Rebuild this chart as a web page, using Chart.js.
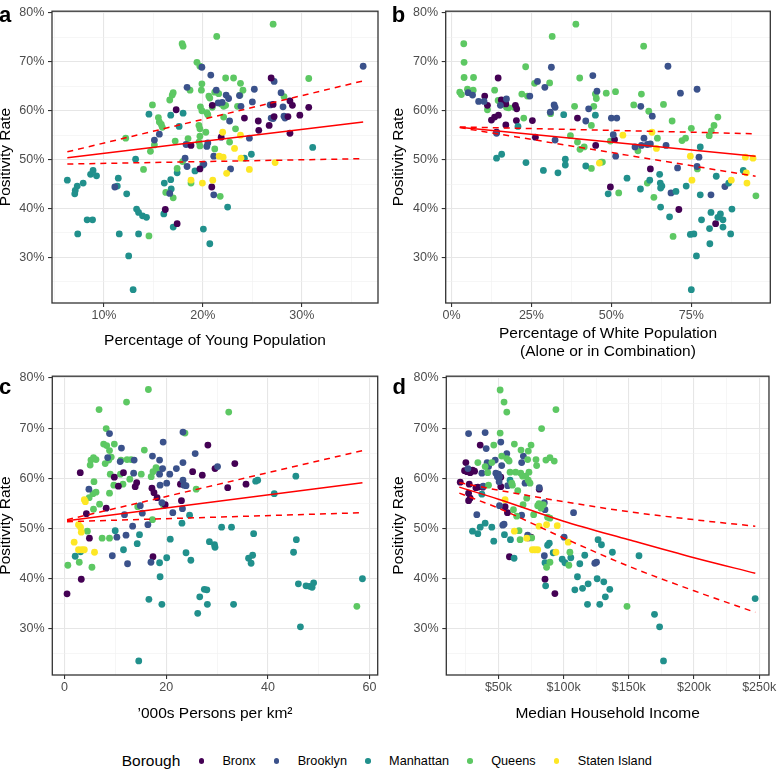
<!DOCTYPE html>
<html>
<head>
<meta charset="utf-8">
<script src="https://cdn.jsdelivr.net/npm/chart.js@4.4.1/dist/chart.umd.min.js"></script>
<style>
  body { margin: 0; background: #fff; width: 778px; height: 770px; position: relative; overflow: hidden;
         font-family: "Liberation Sans", Arial, Helvetica, sans-serif; }
  canvas { position: absolute; }
  .tag { position: absolute; font-weight: bold; font-size: 22px; line-height: 22px; color: #000; }
  #legend { position: absolute; left: 121.7px; top: 751px; height: 20px; display: flex; align-items: center; white-space: nowrap; }
  #legend .ttl { font-size: 15.5px; line-height: 15.5px; color: #000; }
  #legend .dot { width: 5.5px; height: 5.5px; border-radius: 50%; margin: 0 18.3px; }
  #legend .lab { font-size: 12.7px; line-height: 12.7px; color: #000; }
</style>
</head>
<body>
<canvas id="pa" width="389" height="365" style="left:0;top:0"></canvas>
<canvas id="pb" width="389" height="365" style="left:389px;top:0"></canvas>
<canvas id="pc" width="389" height="365" style="left:0;top:365px"></canvas>
<canvas id="pd" width="389" height="365" style="left:389px;top:365px"></canvas>
<div class="tag" style="left:-1px;top:4.1px">a</div>
<div class="tag" style="left:391.8px;top:4.1px">b</div>
<div class="tag" style="left:-1px;top:376.4px">c</div>
<div class="tag" style="left:392.5px;top:376.4px">d</div>
<div id="legend"><span class="ttl">Borough</span></div>
<script>
Chart.defaults.font.family = '"Liberation Sans", Arial, Helvetica, sans-serif';

const boroughs = ['Bronx', 'Brooklyn', 'Manhattan', 'Queens', 'Staten Island'];
const boroughColors = ['#440154', '#3B528B', '#21908C', '#5DC863', '#FDE725'];

// positivity rate (%) axis
const yMajor = [30, 40, 50, 60, 70, 80];
const yMinor = [25, 35, 45, 55, 65, 75];

// a: % young population vs positivity, [x, y, borough]
const youngPts = [
  [6.3,45.8],[7.3,44.6],[7.1,43.7],[7.05,43.0],[7.9,45.2],[7.35,34.8],[8.3,37.7],[8.85,37.7],[8.65,47.0],[8.9,47.8],
  [9.25,46.7],[11.35,44.6],[11.45,46.2],[11.55,34.8],[12.3,43.0],[12.5,30.3],[13.2,50.1],[13.3,39.9],[13.5,39.2],[13.9,38.5],
  [14.3,38.2],[13.5,34.8],[12.95,23.4],[14.55,59.3],[16.1,45.2],[16.05,38.9],[16.75,45.9],[16.8,44.0],[16.75,59.1],[17.0,36.2],
  [17.4,47.3],[17.6,56.8],[18.0,59.5],[19.2,47.7],[20.0,48.9],[20.05,35.8],[20.7,32.8],[22.5,40.3],[24.2,50.3],[24.9,51.1],[31.1,52.5]
].map(p => [p[0], p[1], 2]).concat([
  [12.2,54.4],[14.0,48.0],[14.55,34.4],[14.9,61.2],[14.7,51.7],[15.1,53.0],[15.5,58.6],[15.6,57.7],[15.8,57.2],[15.9,56.6],
  [16.25,43.3],[16.65,62.2],[16.9,63.2],[17.0,63.7],[17.0,42.2],[17.2,53.8],[17.4,48.2],[17.9,73.7],[18.0,73.2],[17.95,49.6],
  [18.5,54.3],[18.7,64.2],[18.8,45.2],[19.4,69.9],[19.7,69.1],[19.6,57.0],[19.7,56.3],[19.7,54.8],[19.6,53.6],[19.7,52.8],
  [19.75,60.8],[19.9,60.0],[20.4,59.6],[20.5,59.2],[19.9,65.5],[19.85,64.2],[20.3,55.6],[20.6,63.0],[20.7,62.6],[20.95,60.7],
  [21.2,63.8],[21.2,52.2],[21.4,75.2],[21.6,63.5],[21.75,42.5],[21.85,61.4],[22.1,60.9],[22.3,61.1],[22.1,58.7],[22.3,66.7],
  [22.7,53.6],[23.1,66.7],[23.3,56.3],[23.5,60.9],[23.75,63.2],[23.8,65.6],[24.05,64.2],[27.1,77.7],[28.2,62.9],[30.7,66.6]
].map(p => [p[0], p[1], 3])).concat([
  [11.1,44.4],[15.1,54.0],[15.6,55.2],[16.65,43.1],[18.2,50.3],[18.3,53.1],[18.4,48.6],[18.4,64.8],[19.9,68.9],[20.1,49.1],
  [20.4,52.7],[20.5,53.4],[20.8,67.3],[21.1,50.7],[21.1,42.8],[21.35,64.2],[21.55,61.6],[21.95,61.7],[22.35,63.2],[22.6,62.5],
  [22.7,57.9],[22.8,48.1],[23.7,63.1],[23.85,60.9],[24.7,54.4],[25.0,61.8],[25.2,64.4],[26.8,61.2],[26.9,58.5],[27.1,58.4],
  [27.2,66.0],[27.9,63.7],[28.1,60.8],[28.2,58.9],[28.3,58.5],[36.2,69.1]
].map(p => [p[0], p[1], 1])).concat([
  [16.2,39.8],[17.3,60.2],[17.4,36.9],[18.8,52.9],[19.7,48.1],[20.9,44.4],[20.95,61.1],[21.85,54.6],[24.2,58.5],[25.6,57.9],
  [25.65,56.0],[26.7,57.0],[26.9,66.7],[27.1,61.3],[27.2,58.8],[28.6,58.8],[28.8,62.0],[29.05,61.1],[28.8,55.4],[29.8,59.1],[30.7,60.7]
].map(p => [p[0], p[1], 0])).concat([
  [18.8,45.8],[19.95,45.2],[21.0,45.8],[21.65,50.7],[22.05,50.5],[22.0,55.6],[22.4,47.2],[23.2,52.3],[23.8,55.0],[23.85,50.3],
  [24.7,48.0],[27.3,49.4]
].map(p => [p[0], p[1], 4]));
const youngFitX = [6.3, 36.2];
const youngFit = [50.4, 57.7];
const youngUpper = [51.6, 66.1];
const youngLower = [49.1, 50.2];

// b: % white population
const whitePts = [
  [2.6,63.8],[3.1,63.3],[3.85,73.7],[3.95,69.9],[3.95,66.8],[5.0,64.4],[5.7,64.0],[6.8,64.2],[6.9,66.8],[11.25,60.2],
  [13.5,64.2],[14.6,62.1],[17.2,60.7],[17.9,60.6],[19.6,60.7],[22.0,63.4],[22.6,58.5],[23.2,69.0],[23.75,63.0],[26.0,65.6],
  [30.7,65.7],[31.0,59.4],[31.5,75.2],[37.2,54.9],[38.5,60.9],[38.9,77.7],[39.4,53.6],[40.1,66.7],[40.2,52.1],[41.5,52.6],
  [43.75,48.2],[43.75,57.0],[44.5,60.9],[45.0,63.4],[45.3,62.5],[46.8,49.5],[47.2,49.5],[48.4,63.6],[49.7,53.8],[51.3,63.9],
  [52.3,43.2],[57.0,61.2],[58.3,51.8],[59.4,63.4],[60.1,73.2],[61.7,59.9],[61.25,45.2],[63.3,42.3],[64.4,54.4],[66.3,61.3],
  [69.0,57.9],[69.3,34.3],[72.1,53.9],[73.2,54.4],[75.0,56.4],[76.9,48.1],[80.6,54.9],[81.25,55.9],[82.1,57.0],[83.3,58.7],[95.2,42.6]
].map(p => [p[0], p[1], 3]).concat([
  [10.4,63.0],[11.25,61.1],[12.5,58.1],[13.5,58.7],[14.7,59.1],[14.6,66.7],[14.1,55.6],[15.6,62.2],[16.7,61.9],[17.0,61.4],
  [17.0,57.1],[20.0,61.1],[20.4,60.4],[20.3,58.0],[25.3,58.0],[26.25,54.6],[39.4,58.5],[45.1,52.9],[49.7,44.4],[51.0,54.1],
  [62.2,48.1],[71.1,39.8],[82.6,36.9]
].map(p => [p[0], p[1], 0])).concat([
  [5.2,63.7],[6.6,63.2],[8.5,61.9],[10.2,61.9],[14.1,55.4],[15.3,61.1],[17.2,62.4],[24.5,63.0],[26.9,66.0],[29.2,64.8],
  [31.25,68.9],[30.9,59.7],[32.1,61.2],[32.4,60.7],[32.4,54.0],[42.0,57.9],[42.9,60.4],[44.2,67.2],[45.5,64.0],[50.0,58.5],
  [51.7,58.5],[50.6,55.1],[51.35,50.7],[57.4,52.6],[59.4,52.9],[61.25,53.1],[62.2,53.2],[59.2,60.9],[60.2,54.4],[62.8,58.9],
  [67.1,52.9],[67.7,69.1],[68.65,43.2],[70.7,48.3],[71.6,63.6],[76.8,64.4],[76.8,48.6],[77.4,50.5],[81.15,42.8],[85.5,44.5]
].map(p => [p[0], p[1], 1])).concat([
  [14.1,50.3],[15.7,51.1],[20.8,56.8],[23.3,49.4],[28.75,47.8],[33.3,47.3],[35.1,59.2],[35.6,50.1],[35.6,48.9],[42.0,48.7],
  [45.0,59.1],[49.0,43.0],[54.9,46.2],[59.1,44.0],[62.0,45.8],[65.1,47.0],[65.3,45.2],[65.4,44.2],[65.8,44.6],[65.4,40.3],
  [68.2,38.3],[70.2,43.5],[73.4,44.6],[74.7,34.7],[75.8,34.8],[75.0,23.4],[76.6,30.3],[77.8,52.6],[77.8,42.8],[78.2,37.7],
  [80.7,35.9],[80.8,32.8],[81.15,39.2],[82.8,46.6],[83.3,38.2],[84.1,38.9],[84.9,37.7],[84.9,36.2],[86.7,45.2],[87.3,34.8],
  [87.7,39.9],[91.25,47.8]
].map(p => [p[0], p[1], 2])).concat([
  [46.25,49.3],[53.6,55.0],[62.7,55.6],[64.1,52.3],[74.7,50.7],[75.2,45.8],[87.5,45.8],[91.9,50.5],[94.3,50.3],[92.2,47.3],[92.4,45.2]
].map(p => [p[0], p[1], 4]));
const whiteFitX = [2.6, 95.1];
const whiteFit = [56.6, 50.7];
const whiteUpper = [56.7, 55.3];
const whiteLower = [56.55, 46.6];

// c: '000s persons per km2
const densityPts = [
  [0.66,42.6],[2.9,43.2],[5.4,42.2],[4.5,49.4],[6.8,73.7],[8.2,69.9],[7.7,66.8],[8.3,66.5],[8.85,65.5],[9.2,64.2],
  [8.7,63.6],[9.8,66.8],[9.0,60.8],[8.85,57.0],[9.7,58.6],[7.4,48.0],[8.85,48.0],[5.8,59.3],[5.6,56.9],[6.2,57.2],
  [4.85,56.1],[5.2,63.6],[5.7,64.1],[6.2,63.7],[5.05,62.6],[6.9,54.8],[8.0,62.9],[5.7,53.8],[11.1,63.6],[12.3,63.7],
  [13.1,63.7],[11.0,60.8],[11.5,58.8],[12.2,75.2],[12.85,59.8],[14.4,54.3],[15.1,60.8],[15.7,65.6],[16.5,77.7],[17.05,60.3],
  [17.4,61.3],[18.0,62.1],[18.5,61.7],[17.3,51.7],[19.5,54.5],[23.7,69.0],[25.9,57.8],[32.3,73.2],[57.5,34.4]
].map(p => [p[0], p[1], 3]).concat([
  [0.5,36.9],[3.1,61.1],[3.3,39.8],[4.3,52.9],[4.9,48.0],[8.2,54.0],[9.8,60.2],[10.6,58.4],[11.6,61.1],[13.9,58.3],
  [14.2,59.1],[17.2,58.0],[17.6,57.1],[18.2,56.1],[17.4,44.3],[19.8,54.7],[22.8,58.8],[23.0,55.5],[25.2,61.3],[27.1,60.6],
  [28.2,66.6],[29.6,61.9],[32.1,58.1],[33.5,62.9],[35.7,58.8]
].map(p => [p[0], p[1], 0])).concat([
  [4.8,57.8],[8.85,68.9],[8.5,64.1],[9.4,44.5],[10.3,48.2],[11.2,66.0],[10.95,63.3],[11.8,52.7],[12.1,48.6],[12.4,42.9],
  [13.4,50.4],[13.7,63.6],[13.6,61.0],[14.9,54.5],[15.3,53.0],[16.4,50.7],[17.0,43.2],[17.3,64.4],[18.7,63.6],[18.7,60.8],
  [18.8,58.6],[19.3,61.9],[19.4,67.2],[19.15,55.1],[20.1,59.0],[20.7,60.8],[21.3,53.1],[22.0,61.9],[23.3,63.1],[23.3,69.2],
  [23.3,59.6],[23.5,58.6],[23.9,58.5],[23.2,53.9],[25.7,64.9],[30.1,62.3]
].map(p => [p[0], p[1], 1])).concat([
  [2.1,44.4],[3.15,45.3],[9.97,49.5],[11.6,45.7],[14.3,46.9],[14.75,48.7],[14.6,23.5],[16.6,35.8],[18.8,40.3],[18.7,43.1],
  [19.15,34.8],[20.1,44.1],[20.8,47.8],[23.1,51.0],[23.9,45.1],[24.6,52.6],[24.85,43.6],[26.2,33.0],[26.6,36.3],[27.5,37.8],
  [28.0,37.7],[28.1,34.8],[28.5,47.3],[29.5,46.7],[29.6,46.2],[30.9,50.2],[32.85,50.2],[33.25,34.8],[37.6,59.4],[38.0,59.6],
  [36.2,44.0],[36.7,43.0],[37.0,44.6],[37.2,48.9],[41.25,56.9],[45.05,45.2],[45.5,60.4],[45.6,47.7],[46.0,38.9],[46.4,30.3],
  [47.5,38.5],[48.2,38.4],[48.7,38.2],[49.0,39.1],[58.6,39.9]
].map(p => [p[0], p[1], 2])).concat([
  [1.9,47.2],[2.75,50.7],[3.15,50.2],[3.3,49.2],[3.9,55.7],[4.1,55.3],[2.75,45.7],[3.4,45.7],[3.9,45.7],[5.9,45.2]
].map(p => [p[0], p[1], 4]));
const densityFitX = [0.5, 58.6];
const densityFit = [51.5, 59.1];
const densityUpper = [51.7, 65.5];
const densityLower = [51.3, 53.1];

// d: median household income ($k)
const incomePts = [
  [20.7,59.2],[25.0,63.1],[24.0,61.5],[25.8,61.3],[27.1,61.6],[28.3,61.1],[30.1,61.6],[31.7,61.4],[27.6,58.8],[27.1,57.0],
  [28.3,56.0],[27.1,55.5],[36.0,66.6],[32.7,58.1],[34.2,58.2],[38.0,58.2],[51.8,58.3],[55.1,54.3],[56.9,53.1],[51.8,60.2],
  [58.4,44.3],[72.9,48.05],[75.0,48.2],[81.3,57.8],[85.7,39.8],[93.3,36.95]
].map(p => [p[0], p[1], 0]).concat([
  [27.1,68.9],[26.6,61.9],[33.4,52.7],[37.3,61.0],[38.3,58.4],[39.8,69.1],[40.6,65.9],[41.3,63.1],[42.4,62.3],[47.5,63.6],
  [48.0,61.0],[49.2,60.3],[50.0,60.8],[50.8,60.3],[50.5,59.3],[51.8,67.2],[52.5,62.5],[50.8,54.5],[53.3,50.6],[54.3,50.8],
  [56.4,64.9],[57.1,58.5],[67.8,63.1],[69.1,64.4],[70.4,59.0],[67.8,52.6],[72.4,48.6],[81.3,58.1],[85.2,55.1],[85.7,53.7],
  [85.2,44.5],[100.4,48.2],[107.6,53.1],[123.9,43.0],[125.2,43.2]
].map(p => [p[0], p[1], 1])).concat([
  [30.1,49.4],[34.2,48.9],[36.0,50.2],[37.3,56.8],[39.8,51.0],[44.9,50.2],[46.4,47.4],[54.6,48.7],[58.9,59.6],[59.2,47.7],
  [62.0,44.0],[85.7,43.1],[86.2,38.5],[87.7,46.6],[89.0,47.0],[92.0,45.1],[98.9,43.8],[101.0,43.1],[105.5,44.1],[108.6,37.7],
  [110.6,40.3],[112.4,42.9],[114.5,38.0],[116.2,44.6],[118.3,34.8],[118.8,38.9],[125.7,39.9],[126.4,47.7],[127.7,34.8],[129.0,46.7],
  [130.8,39.3],[132.0,36.3],[135.4,37.8],[137.4,45.2],[157.8,44.5],[169.7,32.8],[173.6,30.3],[176.6,23.5],[246.9,35.95]
].map(p => [p[0], p[1], 2])).concat([
  [34.2,63.1],[39.8,62.3],[41.8,61.1],[42.4,58.6],[44.9,63.1],[46.4,66.6],[51.3,77.6],[51.3,69.0],[52.5,64.4],[54.3,75.2],
  [56.4,73.2],[56.4,63.9],[57.6,63.6],[58.2,63.4],[58.9,61.2],[60.2,59.0],[60.7,58.6],[61.5,53.7],[62.2,66.8],[63.2,61.2],
  [64.0,52.4],[64.8,57.5],[65.8,49.5],[66.6,47.7],[67.1,61.0],[68.6,60.4],[67.3,65.6],[68.9,54.7],[70.9,60.4],[72.9,59.6],
  [71.7,56.0],[72.4,63.7],[72.9,65.4],[73.4,61.2],[74.2,59.0],[75.0,66.6],[75.5,48.05],[77.0,52.7],[78.8,63.7],[79.3,62.5],
  [80.1,54.5],[81.1,54.9],[82.6,54.0],[84.4,54.7],[83.1,69.9],[86.4,63.6],[86.9,42.2],[89.5,43.2],[87.7,52.2],[89.5,52.0],
  [89.5,64.1],[92.8,63.4],[94.1,73.7],[104.0,42.6],[104.8,45.2],[148.6,34.4]
].map(p => [p[0], p[1], 3])).concat([
  [55.1,55.7],[62.2,49.4],[71.7,48.0],[76.0,45.7],[78.0,45.7],[80.1,45.7],[81.1,50.4],[86.9,50.7],[94.1,45.2],[95.1,50.5],[103.5,47.2]
].map(p => [p[0], p[1], 4]));
const incomeFitX = [20, 50, 100, 150, 200, 247];
const incomeFit = [58.2, 55.8, 51.4, 47.7, 44.1, 41.0];
const incomeUpper = [59.1, 57.6, 55.3, 53.3, 51.7, 50.4];
const incomeLower = [57.0, 54.0, 48.05, 42.4, 37.5, 33.2];

// panel border on top of everything
const frame = {
  id: 'frame',
  afterDraw(chart) {
    const a = chart.chartArea, ctx = chart.ctx;
    ctx.save();
    ctx.strokeStyle = '#333333';
    ctx.lineWidth = 1.3;
    ctx.strokeRect(a.left, a.top, a.right - a.left, a.bottom - a.top);
    ctx.restore();
  }
};

function gridFor(major) {
  const isMajor = c => c.tick && major.includes(c.tick.value);
  return {
    drawTicks: true,
    tickLength: 4,
    tickWidth: 1.1,
    color: c => isMajor(c) ? '#e6e6e6' : '#f0f0f0',
    lineWidth: c => isMajor(c) ? 1.1 : 0.6,
    tickColor: c => isMajor(c) ? '#333333' : 'rgba(0,0,0,0)'
  };
}

function line(xs, ys, dash) {
  return {
    type: 'line',
    data: xs.map((x, i) => ({x: x, y: ys[i]})),
    borderColor: '#ff0000',
    borderWidth: 1.5,
    borderDash: dash ? [6, 5] : [],
    pointRadius: 0,
    fill: false,
    cubicInterpolationMode: 'monotone',
    order: 0
  };
}

function panel(id, p) {
  const xTicks = p.xMajor.concat(p.xMinor).sort((a, b) => a - b);
  const yTicks = yMajor.concat(yMinor).sort((a, b) => a - b);
  new Chart(document.getElementById(id), {
    type: 'scatter',
    data: {
      datasets: [
        line(p.fitX, p.fit, false),
        line(p.fitX, p.upper, true),
        line(p.fitX, p.lower, true),
        {
          type: 'scatter',
          data: p.pts.map(d => ({x: d[0], y: d[1]})),
          backgroundColor: p.pts.map(d => boroughColors[d[2]]),
          borderWidth: 0,
          pointRadius: 3.4,
          order: 1
        }
      ]
    },
    options: {
      responsive: false,
      animation: false,
      events: [],
      layout: { padding: p.pad },
      plugins: { legend: { display: false }, tooltip: { enabled: false } },
      scales: {
        x: {
          type: 'linear', min: p.xMin, max: p.xMax,
          afterBuildTicks: s => { s.ticks = xTicks.map(v => ({value: v})); },
          afterFit: s => { s.height = p.xH; },
          border: { display: false },
          grid: gridFor(p.xMajor),
          ticks: {
            autoSkip: false, maxRotation: 0, padding: 1.5, color: '#4d4d4d', font: { size: 12.5 },
            callback: v => p.xMajor.includes(v) ? p.xFmt(v) : ''
          },
          title: {
            display: true, text: p.xTitle, color: '#000',
            font: { size: 15.5, lineHeight: p.xLH },
            padding: { top: 0, bottom: p.xTitlePad }
          }
        },
        y: {
          type: 'linear', min: 20.68, max: 80.36,
          afterBuildTicks: s => { s.ticks = yTicks.map(v => ({value: v})); },
          afterFit: s => { s.width = p.yW; },
          border: { display: false },
          grid: gridFor(yMajor),
          ticks: {
            autoSkip: false, padding: 3.7, color: '#4d4d4d', font: { size: 12.5 },
            callback: v => yMajor.includes(v) ? v + '%' : ''
          },
          title: {
            display: true, text: 'Positivity Rate', color: '#000',
            font: { size: 15.5, lineHeight: 0.8 },
            padding: { top: p.yTitlePad, bottom: 0 }
          }
        }
      }
    },
    plugins: [frame]
  });
}

panel('pa', {
  pts: youngPts, fitX: youngFitX, fit: youngFit, upper: youngUpper, lower: youngLower,
  xMin: 4.75, xMax: 37.7, xMajor: [10, 20, 30], xMinor: [5, 15, 25, 35], xFmt: v => v + '%',
  xTitle: 'Percentage of Young Population', xLH: 1, xTitlePad: 16.5,
  pad: { top: 3, right: 11, left: 0, bottom: 0 }, yW: 52, xH: 62, yTitlePad: 0
});
panel('pb', {
  pts: whitePts, fitX: whiteFitX, fit: whiteFit, upper: whiteUpper, lower: whiteLower,
  xMin: -1.8, xMax: 99.7, xMajor: [0, 25, 50, 75], xMinor: [12.5, 37.5, 62.5, 87.5], xFmt: v => v + '%',
  xTitle: ['Percentage of White Population', '(Alone or in Combination)'], xLH: 1.14, xTitlePad: 4.5,
  pad: { top: 3, right: 7.7, left: 0, bottom: 0 }, yW: 56.7, xH: 62, yTitlePad: 3.4
});
panel('pc', {
  pts: densityPts, fitX: densityFitX, fit: densityFit, upper: densityUpper, lower: densityLower,
  xMin: -2.4, xMax: 61.6, xMajor: [0, 20, 40, 60], xMinor: [10, 30, 50], xFmt: v => String(v),
  xTitle: '\u2019000s Persons per km\u00B2', xLH: 1, xTitlePad: 8.2,
  pad: { top: 11, right: 11.3, left: 0, bottom: 0 }, yW: 52.3, xH: 55, yTitlePad: 0
});
panel('pd', {
  pts: incomePts, fitX: incomeFitX, fit: incomeFit, upper: incomeUpper, lower: incomeLower,
  xMin: 10, xMax: 257.5, xMajor: [50, 100, 150, 200, 250], xMinor: [25, 75, 125, 175, 225], xFmt: v => '$' + v + 'k',
  xTitle: 'Median Household Income', xLH: 1, xTitlePad: 8.2,
  pad: { top: 11, right: 9, left: 0, bottom: 0 }, yW: 57.3, xH: 55, yTitlePad: 3.5
});

// legend
const legend = document.getElementById('legend');
boroughs.forEach((name, i) => {
  const dot = document.createElement('span');
  dot.className = 'dot';
  dot.style.background = boroughColors[i];
  const lab = document.createElement('span');
  lab.className = 'lab';
  lab.textContent = name;
  legend.appendChild(dot);
  legend.appendChild(lab);
});
</script>
</body>
</html>
